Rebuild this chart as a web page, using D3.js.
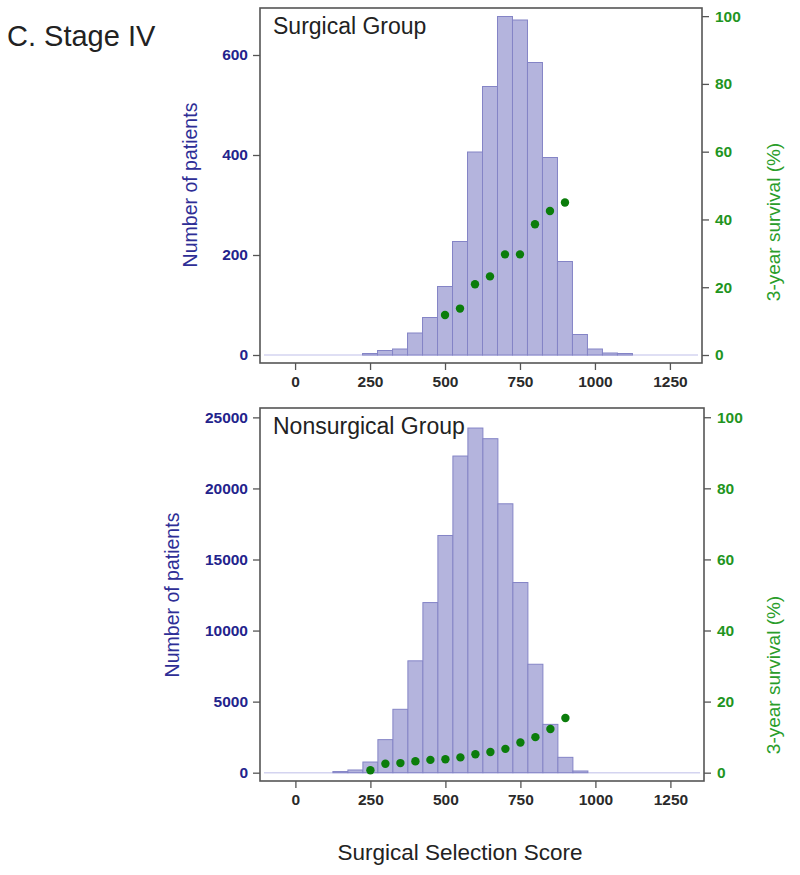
<!DOCTYPE html>
<html><head><meta charset="utf-8">
<script src="https://cdn.jsdelivr.net/npm/d3@7"></script>
<style>body{margin:0;background:#fff}svg{display:block}</style>
</head><body>
<script>
// ---- data ----
const binCenters = [150,200,250,300,350,400,450,500,550,600,650,700,750,800,850,900,950,1000,1050,1100];
const surgicalCounts = [0,0,3,9,12,44,75,137,227,406,537,677,670,585,395,187,41,12,4,3];
const nonsurgicalCounts = [80,190,750,2325,4460,7870,11970,16690,22280,24250,23500,18920,13380,7630,3400,1080,120,0,0,0];
const surgicalSurvX = [500,550,600,650,700,750,800,850,900];
const surgicalSurv = [11.8,13.7,20.9,23.2,29.7,29.7,38.6,42.5,45.0];
const nonsurgicalSurvX = [250,300,350,400,450,500,550,600,650,700,750,800,850,900];
const nonsurgicalSurv = [0.7,2.5,2.7,3.2,3.6,3.8,4.3,5.2,5.8,6.7,8.5,10.0,12.3,15.4];
const xTicks = [0,250,500,750,1000,1250];
const surgicalCountTicks = [0,200,400,600];
const nonsurgicalCountTicks = [0,5000,10000,15000,20000,25000];
const survTicks = [0,20,40,60,80,100];
const binWidth = 50;

const W = 800, H = 875;
const FONT = "Arial, 'Liberation Sans', sans-serif";
const svg = d3.select("body").append("svg").attr("width", W).attr("height", H);

svg.append("text").attr("x", 7).attr("y", 46).attr("font-family", FONT)
  .attr("font-size", 29).attr("fill", "#222").text("C. Stage IV");

function panel(cfg) {
  const x = d3.scaleLinear().domain(cfg.xDomain).range([cfg.left, cfg.right]);
  const y = d3.scaleLinear().domain(cfg.yDomain).range([cfg.bottom, cfg.top]);
  const y2 = d3.scaleLinear().domain(cfg.y2Domain).range([cfg.bottom, cfg.top]);
  const g = svg.append("g");

  // zero baseline
  g.append("line").attr("x1", cfg.left + 4).attr("x2", cfg.right - 4)
    .attr("y1", y(0)).attr("y2", y(0)).attr("stroke", "#d4d4f0").attr("stroke-width", 1.5);

  // bars
  g.selectAll("rect.bar").data(binCenters.map((c, i) => ({c, v: cfg.counts[i]})).filter(d => d.v > 0))
    .enter().append("rect")
    .attr("x", d => x(d.c - binWidth / 2))
    .attr("width", d => x(d.c + binWidth / 2) - x(d.c - binWidth / 2))
    .attr("y", d => y(d.v))
    .attr("height", d => y(0) - y(d.v))
    .attr("fill", "#b4b4dd").attr("stroke", "#8484c6").attr("stroke-width", 1);

  // dots
  g.selectAll("circle").data(cfg.survX.map((s, i) => ({s, v: cfg.surv[i]})))
    .enter().append("circle")
    .attr("cx", d => x(d.s)).attr("cy", d => y2(d.v)).attr("r", 4.2)
    .attr("fill", "#0b7d0b");

  // frame
  g.append("rect").attr("x", cfg.left).attr("y", cfg.top)
    .attr("width", cfg.right - cfg.left).attr("height", cfg.bottom - cfg.top)
    .attr("fill", "none").attr("stroke", "#555").attr("stroke-width", 1.6);

  // axes
  const ax = g.append("g").attr("transform", `translate(0,${cfg.bottom})`)
    .call(d3.axisBottom(x).tickValues(xTicks).tickSize(7).tickPadding(6).tickFormat(d3.format("d")));
  ax.select(".domain").remove();
  ax.selectAll("line").attr("stroke", "#555").attr("stroke-width", 1.3);
  ax.selectAll("text").attr("font-family", FONT).attr("font-size", 15.5)
    .attr("font-weight", "bold").attr("fill", "#2a2a2a");

  const ay = g.append("g").attr("transform", `translate(${cfg.left},0)`)
    .call(d3.axisLeft(y).tickValues(cfg.countTicks).tickSize(7).tickPadding(5).tickFormat(d3.format("d")));
  ay.select(".domain").remove();
  ay.selectAll("line").attr("stroke", "#555").attr("stroke-width", 1.3);
  ay.selectAll("text").attr("font-family", FONT).attr("font-size", 15.5)
    .attr("font-weight", "bold").attr("fill", "#23238c");

  const ay2 = g.append("g").attr("transform", `translate(${cfg.right},0)`)
    .call(d3.axisRight(y2).tickValues(survTicks).tickSize(7).tickPadding(6).tickFormat(d3.format("d")));
  ay2.select(".domain").remove();
  ay2.selectAll("line").attr("stroke", "#555").attr("stroke-width", 1.3);
  ay2.selectAll("text").attr("font-family", FONT).attr("font-size", 15.5)
    .attr("font-weight", "bold").attr("fill", "#1f951f");

  // labels
  g.append("text").attr("x", cfg.left + 13).attr("y", cfg.top + 26)
    .attr("font-family", FONT).attr("font-size", 23).attr("fill", "#222").text(cfg.title);

  g.append("text").attr("transform", `translate(${cfg.leftLabelX},${cfg.leftLabelY}) rotate(-90)`)
    .attr("text-anchor", "middle").attr("font-family", FONT).attr("font-size", 19.5)
    .attr("fill", "#2e2e96").text("Number of patients");

  g.append("text").attr("transform", `translate(${cfg.rightLabelX},${cfg.rightLabelY}) rotate(-90)`)
    .attr("text-anchor", "middle").attr("font-family", FONT).attr("font-size", 19)
    .attr("fill", "#2a9d2a").text("3-year survival (%)");
}

panel({
  left: 260, right: 702, top: 8, bottom: 363,
  xDomain: [-117, 1357], yDomain: [-16, 694], y2Domain: [-2.36, 102.4],
  counts: surgicalCounts, survX: surgicalSurvX, surv: surgicalSurv,
  countTicks: surgicalCountTicks, title: "Surgical Group",
  leftLabelX: 197, leftLabelY: 185, rightLabelX: 780, rightLabelY: 222
});

panel({
  left: 260, right: 704, top: 408, bottom: 781,
  xDomain: [-118, 1362], yDomain: [-585, 25660], y2Domain: [-2.34, 102.6],
  counts: nonsurgicalCounts, survX: nonsurgicalSurvX, surv: nonsurgicalSurv,
  countTicks: nonsurgicalCountTicks, title: "Nonsurgical Group",
  leftLabelX: 179, leftLabelY: 595, rightLabelX: 780, rightLabelY: 675
});

svg.append("text").attr("x", 460).attr("y", 860).attr("text-anchor", "middle")
  .attr("font-family", FONT).attr("font-size", 22.5).attr("fill", "#222").text("Surgical Selection Score");
</script>
</body></html>
